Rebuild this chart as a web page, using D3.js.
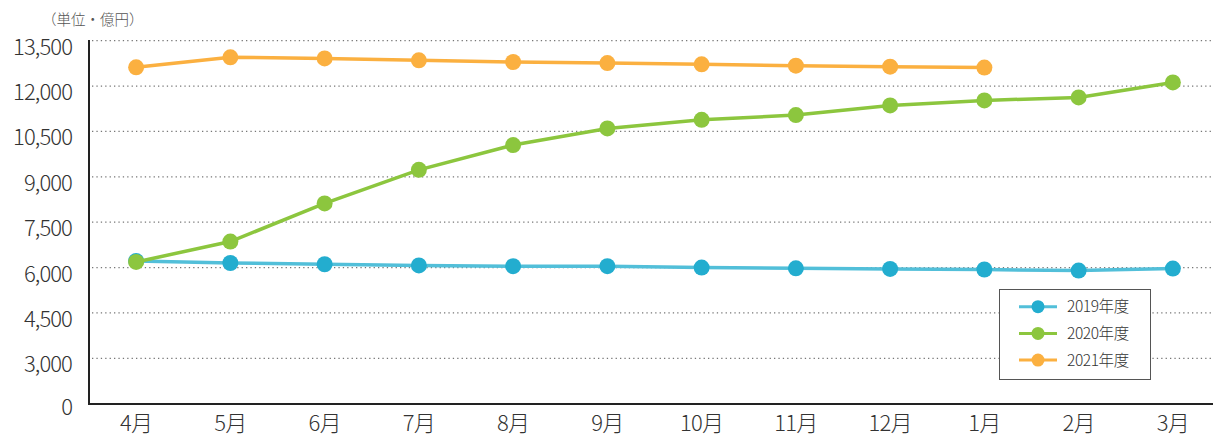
<!DOCTYPE html>
<html lang="ja">
<head>
<meta charset="utf-8">
<script src="https://d3js.org/d3.v7.min.js"></script>
<style>
  body { margin: 0; background: #fff; }
  svg text { font-family: "Noto Sans CJK JP", "Noto Sans", sans-serif; font-weight: 300; }
</style>
</head>
<body>
<svg id="chart"></svg>
<script>
  // data
  const months = ["4月", "5月", "6月", "7月", "8月", "9月", "10月", "11月", "12月", "1月", "2月", "3月"];
  const fy2019 = [6220, 6150, 6110, 6070, 6045, 6045, 6000, 5975, 5955, 5935, 5900, 5965];
  const fy2020 = [6185, 6860, 8120, 9230, 10050, 10600, 10885, 11040, 11360, 11525, 11625, 12120];
  const fy2021 = [12620, 12950, 12915, 12850, 12795, 12760, 12720, 12675, 12640, 12610];
  const yTicks = [0, 3000, 4500, 6000, 7500, 9000, 10500, 12000, 13500];
  const seriesNames = ["2019年度", "2020年度", "2021年度"];

  const width = 1213, height = 437;
  const svg = d3.select("#chart").attr("width", width).attr("height", height);

  const x = d3.scalePoint().domain(months).range([89, 1220]).padding(0.5);
  // axis is broken between 0 and 3,000
  const y = d3.scaleLinear().domain([0, 3000, 13500]).range([404, 358.3, 40.7]);

  const series = [
    { name: seriesNames[0], values: fy2019, line: "#52bfd9", dot: "#23adcf" },
    { name: seriesNames[1], values: fy2020, line: "#8cc63e", dot: "#8cc63e" },
    { name: seriesNames[2], values: fy2021, line: "#fbb040", dot: "#fbb040" }
  ];

  // grid
  svg.append("g")
    .selectAll("line")
    .data(yTicks.filter(d => d > 0))
    .enter()
    .append("line")
    .attr("x1", 92).attr("x2", width)
    .attr("y1", d => y(d)).attr("y2", d => y(d))
    .attr("stroke", "#777")
    .attr("stroke-width", 1.3)
    .attr("stroke-dasharray", "1.3,3.1");

  // y labels (they sit a little below their gridlines in the original)
  svg.append("g")
    .selectAll("text")
    .data(yTicks)
    .enter()
    .append("text")
    .attr("x", 72)
    .attr("y", d => y(d) + (d === 0 ? 11 : 14))
    .attr("text-anchor", "end")
    .attr("fill", "#333")
    .style("font-size", "22px")
    .style("letter-spacing", "-0.9px")
    .text(d => d3.format(",")(d));

  // x labels
  svg.append("g")
    .selectAll("text")
    .data(months)
    .enter()
    .append("text")
    .attr("x", d => x(d))
    .attr("y", 431)
    .attr("text-anchor", "middle")
    .attr("fill", "#333")
    .style("font-size", "22px")
    .style("letter-spacing", "-0.8px")
    .text(d => d);

  // axes lines
  svg.append("line")
    .attr("x1", 89).attr("x2", 89).attr("y1", 40).attr("y2", 405)
    .attr("stroke", "#222").attr("stroke-width", 2);
  svg.append("line")
    .attr("x1", 88).attr("x2", width).attr("y1", 404).attr("y2", 404)
    .attr("stroke", "#222").attr("stroke-width", 2);

  svg.append("text")
    .attr("x", 42)
    .attr("y", 25)
    .attr("fill", "#555")
    .style("font-size", "14.5px")
    .text("（単位・億円）");

  const line = d3.line()
    .x((d, i) => x(months[i]))
    .y(d => y(d));

  series.forEach(s => {
    const g = svg.append("g");
    g.append("path")
      .datum(s.values)
      .attr("fill", "none")
      .attr("stroke", s.line)
      .attr("stroke-width", 3.5)
      .attr("d", line);
    g.selectAll("circle")
      .data(s.values)
      .enter()
      .append("circle")
      .attr("cx", (d, i) => x(months[i]))
      .attr("cy", d => y(d))
      .attr("r", 8)
      .attr("fill", s.dot);
  });

  // legend
  const legend = svg.append("g").attr("id", "legend");
  legend.append("rect")
    .attr("x", 999.5).attr("y", 289.5)
    .attr("width", 151).attr("height", 90)
    .attr("fill", "#fff")
    .attr("stroke", "#555")
    .attr("stroke-width", 1);

  const entry = legend.selectAll("g.entry")
    .data(series)
    .enter()
    .append("g")
    .attr("class", "entry")
    .attr("transform", (d, i) => `translate(0, ${306.7 + i * 26.7})`);
  entry.append("line")
    .attr("x1", 1019).attr("x2", 1057)
    .attr("stroke", d => d.line)
    .attr("stroke-width", 3);
  entry.append("circle")
    .attr("cx", 1038).attr("r", 6.5)
    .attr("fill", d => d.dot);
  entry.append("text")
    .attr("x", 1067)
    .attr("y", 5.5)
    .attr("fill", "#333")
    .style("font-size", "15.5px")
    .style("letter-spacing", "-0.4px")
    .text(d => d.name);
</script>
</body>
</html>
